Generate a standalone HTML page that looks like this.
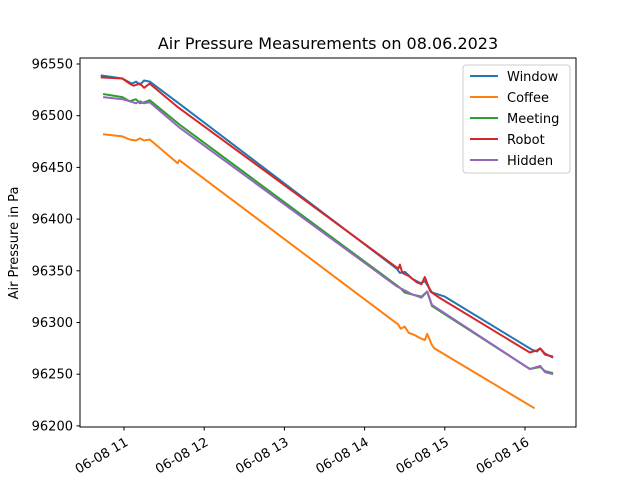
<!DOCTYPE html>
<html><head><meta charset="utf-8"><style>
body{margin:0;background:#fff;font-family:"Liberation Sans","DejaVu Sans",sans-serif}
</style></head><body>
<svg id="c" width="640" height="480" xmlns="http://www.w3.org/2000/svg" font-family="DejaVu Sans, Liberation Sans, sans-serif">
<rect width="640" height="480" fill="#fff"/>
<text x="328" y="49" text-anchor="middle" font-size="16">Air Pressure Measurements on 08.06.2023</text>
<text transform="translate(18,243) rotate(-90)" text-anchor="middle" font-size="13">Air Pressure in Pa</text>
<g id="plot"></g>
<rect x="80" y="58" width="496" height="369" fill="none" stroke="#000" stroke-width="1"/>
<g id="legend"></g>
</svg>
<script>
const yTicks=[96200,96250,96300,96350,96400,96450,96500,96550];
const xTicks=[11,12,13,14,15,16];
const xTickLabels=["06-08 11","06-08 12","06-08 13","06-08 14","06-08 15","06-08 16"];
const seriesNames=["Window","Coffee","Meeting","Robot","Hidden"];
const colors=["#1f77b4","#ff7f0e","#2ca02c","#d62728","#9467bd"];
const windowT=[10.71,10.98,11.05,11.1,11.15,11.2,11.25,11.32,11.70,14.40,14.44,14.5,14.6,14.7,14.75,14.84,15.0,16.08,16.15,16.19,16.25,16.35];
const windowV=[96539,96536,96533,96531,96533,96530,96534,96533,96511,96352,96348,96349,96342,96338,96340,96329,96325,96274,96272,96275,96270,96266];
const coffeeT=[10.74,10.98,11.07,11.15,11.2,11.25,11.32,11.67,11.69,14.42,14.45,14.5,14.55,14.62,14.69,14.75,14.78,14.84,14.87,16.12];
const coffeeV=[96482,96480,96477,96476,96478,96476,96477,96454,96457,96298,96294,96296,96290,96288,96285,96283,96289,96278,96275,96217];
const meetingT=[10.74,10.98,11.07,11.15,11.2,11.25,11.32,11.70,14.40,14.45,14.5,14.6,14.71,14.78,14.84,16.06,16.19,16.25,16.35];
const meetingV=[96521,96518,96514,96516,96512,96513,96515,96491,96336,96333,96329,96327,96325,96330,96316,96255,96257,96253,96251];
const robotT=[10.71,10.98,11.07,11.12,11.2,11.25,11.32,11.66,14.42,14.44,14.47,14.55,14.65,14.71,14.75,14.82,14.91,16.06,16.15,16.19,16.25,16.35];
const robotV=[96537,96536,96531,96529,96531,96527,96531,96509,96352,96356,96348,96345,96339,96337,96344,96330,96325,96271,96273,96275,96269,96267];
const hiddenT=[10.74,10.98,11.07,11.15,11.2,11.25,11.32,11.70,14.40,14.45,14.5,14.6,14.71,14.78,14.84,16.06,16.19,16.25,16.35];
const hiddenV=[96518,96516,96514,96512,96514,96512,96513,96488,96335,96333,96331,96327,96324,96330,96317,96255,96258,96252,96250];
const sT=[windowT,coffeeT,meetingT,robotT,hiddenT], sV=[windowV,coffeeV,meetingV,robotV,hiddenV];
const NS="http://www.w3.org/2000/svg";
const X=h=>124+(h-11)*80.2;
const Y=v=>64+(96550-v)*51.7/50;
const plot=document.getElementById('plot');
function mk(tag,attrs,parent){const e=document.createElementNS(NS,tag);for(const k in attrs)e.setAttribute(k,attrs[k]);parent.appendChild(e);return e;}
yTicks.forEach(v=>{
  const l=mk('line',{x1:76.5,x2:80,y1:Y(v),y2:Y(v),stroke:'#000'},plot);
  
  
  const t=mk('text',{x:73,y:Y(v)+4.5,'text-anchor':'end','font-size':'13'},plot);
  
  
  t.textContent=v;
});
xTicks.forEach((h,i)=>{
  const l=mk('line',{x1:X(h),x2:X(h),y1:427,y2:430.5,stroke:'#000'},plot);
  
  
  const t=mk('text',{transform:`translate(${X(h)},${436}) rotate(-30)`,'text-anchor':'end','font-size':'13',dy:'10'},plot);
  
  
  t.textContent=xTickLabels[i];
});
sT.forEach((ts,i)=>{
  const pts=ts.map((t,j)=>X(t).toFixed(1)+','+Y(sV[i][j]).toFixed(1)).join(' ');
  const p=mk('polyline',{points:pts,fill:'none',stroke:colors[i],'stroke-width':2,'stroke-linejoin':'round'},plot);
  
  
});
const lg=document.getElementById('legend');
const box=mk('rect',{x:463,y:65,width:107,height:108,rx:3,fill:'#fff',stroke:'#ccc'},lg);


seriesNames.forEach((n,i)=>{
  const y=76+i*21;
  const l=mk('line',{x1:470,x2:498,y1:y,y2:y,stroke:colors[i],'stroke-width':2},lg);
  
  
  const t=mk('text',{x:507,y:y+5,'font-size':'13'},lg);
  
  
  t.textContent=n;
});
</script>
</body></html>
